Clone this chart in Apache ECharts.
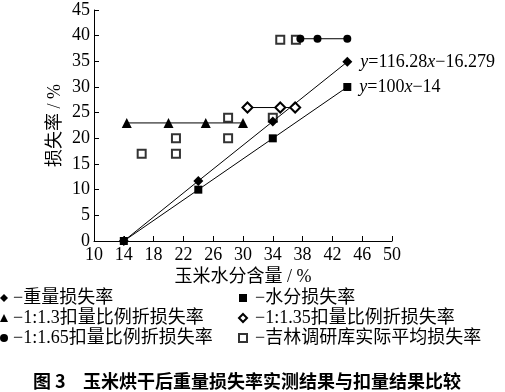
<!DOCTYPE html>
<html><head><meta charset="utf-8">
<script src="https://cdn.jsdelivr.net/npm/echarts@6/dist/echarts.min.js"></script>
<style>html,body{margin:0;padding:0;background:#fff}#c{width:505px;height:392px}</style>
</head><body><div id="c"></div>
<script>
// Data
const xTicks = [10,14,18,22,26,30,34,38,42,46,50];
const yTicks = [0,5,10,15,20,25,30,35,40,45];
const weightX = [14,24,34,44];
const weightY = [0,11.7,23.3,34.9];
const waterX = [14,24,34,44];
const waterY = [0,10,20,30];
const r13X = [14.4,20,25,30];
const r13Y = [23,23,23,23];
const r135X = [30.6,35,37];
const r135Y = [26,26,26];
const r165X = [37.7,40,44];
const r165Y = [39.4,39.4,39.4];
const jlX = [16.4,21,21,28,28,34,35,37.1];
const jlY = [17,17,20,20,24,24,39.2,39.2];
const names = ['重量损失率','水分损失率','1:1.3扣量比例折损失率','1:1.35扣量比例折损失率','1:1.65扣量比例折损失率','吉林调研库实际平均损失率'];
const eqWeight = '{i|y}=116.28{i|x}−16.279';
const eqWater = '{i|y}=100{i|x}−14';

const serif = '"Liberation Serif","Noto Sans CJK SC",serif';
function pairs(xs, ys){ return xs.map((x,i)=>[x, ys[i]]); }
function withEnd(xs, ys, text){
  return xs.map((x,i)=>{
    const d = {value:[x, ys[i]]};
    if (i === xs.length-1) d.label = {show:true, position:'right', distance:8, formatter:text,
      color:'#000', fontSize:18, fontFamily:serif, rich:{i:{fontStyle:'italic', fontSize:18, fontFamily:serif}}};
    return d;
  });
}
const lineBase = {type:'line', lineStyle:{color:'#000', width:1}, itemStyle:{color:'#000'}, emphasis:{disabled:true}, animation:false, z:3};
const chart = echarts.init(document.getElementById('c'), null, {renderer:'canvas'});
chart.setOption({
  animation:false,
  backgroundColor:'#fff',
  grid:{left:94, right:113, top:10, bottom:151, containLabel:false, outerBoundsMode:'none'},
  xAxis:{type:'value', min:10, max:50, interval:4,
    name:'玉米水分含量 / %', nameLocation:'middle', nameGap:27, nameMoveOverlap:false,
    nameTextStyle:{color:'#000', fontSize:18, fontFamily:serif},
    axisLine:{lineStyle:{color:'#000', width:1}},
    axisTick:{inside:true, length:5, lineStyle:{color:'#000'}},
    axisLabel:{color:'#000', fontSize:18, fontFamily:serif, margin:5},
    splitLine:{show:false}},
  yAxis:{type:'value', min:0, max:45, interval:5,
    name:'损失率 / %', nameLocation:'middle', nameGap:30, nameRotate:90, nameMoveOverlap:false,
    nameTextStyle:{color:'#000', fontSize:18, fontFamily:serif},
    axisLine:{show:true, lineStyle:{color:'#000', width:1}},
    axisTick:{show:true, inside:true, length:5, lineStyle:{color:'#000'}},
    axisLabel:{color:'#000', fontSize:18, fontFamily:serif, margin:4},
    splitLine:{show:false}},
  legend:[
    {orient:'vertical', left:0, top:289, padding:0, itemWidth:8, itemHeight:8, itemGap:2,
     textStyle:{color:'#000', fontSize:18, fontFamily:serif}, formatter:n=>'−'+n,
     data:[{name:names[0], icon:'diamond'},{name:names[2], icon:'triangle'},{name:names[4], icon:'circle'}]},
    {orient:'vertical', left:238, top:289, padding:0, itemWidth:8, itemHeight:8, itemGap:2,
     textStyle:{color:'#000', fontSize:18, fontFamily:serif, padding:[0,0,0,3]}, formatter:n=>'−'+n,
     data:[{name:names[1], icon:'rect'},{name:names[3], icon:'emptyDiamond'},{name:names[5], icon:'emptyRect'}]}
  ],
  series:[
    Object.assign({}, lineBase, {name:names[0], symbol:'diamond', symbolSize:10, data:withEnd(weightX, weightY, eqWeight), z:4}),
    Object.assign({}, lineBase, {name:names[1], symbol:'rect', symbolSize:8, data:withEnd(waterX, waterY, eqWater)}),
    Object.assign({}, lineBase, {name:names[2], symbol:'triangle', symbolSize:10, data:pairs(r13X, r13Y)}),
    Object.assign({}, lineBase, {name:names[3], symbol:'emptyDiamond', symbolSize:10, itemStyle:{color:'#000', borderColor:'#000'}, data:pairs(r135X, r135Y)}),
    Object.assign({}, lineBase, {name:names[4], symbol:'circle', symbolSize:8, data:pairs(r165X, r165Y)}),
    {type:'scatter', name:names[5], symbol:'emptyRect', symbolSize:8, itemStyle:{color:'#000', borderColor:'#000', borderWidth:1}, emphasis:{disabled:true}, data:pairs(jlX, jlY), z:2}
  ],
  graphic:[
    {type:'text', left:33, top:372, style:{text:'图 3', fill:'#000', font:'bold 18px "Noto Sans CJK SC"'}},
    {type:'text', left:83, top:372, style:{text:'玉米烘干后重量损失率实测结果与扣量结果比较', fill:'#000', font:'bold 18px "Noto Sans CJK SC"'}}
  ]
});
</script></body></html>
